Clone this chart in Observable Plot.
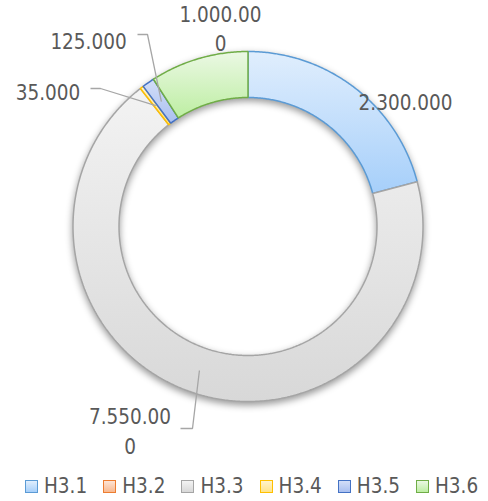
<!DOCTYPE html>
<html><head><meta charset="utf-8">
<script src="https://cdn.jsdelivr.net/npm/d3@7"></script>
<script src="https://cdn.jsdelivr.net/npm/@observablehq/plot@0.6"></script>
<style>
body{margin:0;background:#fff;}
#wrap{width:488px;height:501px;position:relative;overflow:hidden;}
#legend{position:relative;width:488px;height:36px;font-family:"DejaVu Sans Condensed","DejaVu Sans";font-stretch:condensed;font-size:20.5px;color:#595959;}
.item{position:absolute;top:3px;height:36px;display:flex;align-items:center;white-space:nowrap;}
.sw{width:13px;height:13px;box-sizing:border-box;border:1.5px solid;margin-right:6px;}
svg text{font-stretch:condensed;}
</style>
</head><body>
<div id="wrap"><div id="chart"></div><div id="legend"></div></div>
<script>
// ---- data ----
const categories = ["H3.1", "H3.2", "H3.3", "H3.4", "H3.5", "H3.6"];
const values = [2300000, 0, 7550000, 35000, 125000, 1000000];
const labelTexts = ["2.300.000", "", "7.550.00\n0", "35.000", "125.000", "1.000.00\n0"];
const strokeColors = ["#5b9bd5", "#ed7d31", "#a5a5a5", "#ffc000", "#4472c4", "#70ad47"];
const fillTop = ["#e0eefd", "#fde4d6", "#f3f3f3", "#fff3cc", "#d3def8", "#ebf8e4"];
const fillBottom = ["#a6cffa", "#f8b990", "#d8d8d8", "#ffe38a", "#a9bff0", "#bdeea2"];

// ---- layout (pixels) ----
const W = 488, H = 465, CX = 247.5, CY = 226, R_OUT = 175, R_IN = 129;
const labelLayout = [
  {cat: "H3.1", px: 405, py: 100, elbow: null},
  {cat: "H3.3", px: 129.5, py: 429, elbow: [[180, 428], [192, 428]]},
  {cat: "H3.4", px: 47.5, py: 90, elbow: [[90, 88], [100, 88]]},
  {cat: "H3.5", px: 88, py: 39, elbow: [[137, 34], [147, 34]]},
  {cat: "H3.6", px: 220, py: 26.5, elbow: null}
];
const X = px => (px - CX) / R_OUT;
const Y = py => (CY - py) / R_OUT;
const rIn = R_IN / R_OUT;

const rows = categories.map((c, i) => ({cat: c, value: values[i], i}));
const arcs = d3.pie().sort(null).value(d => d.value)(rows);

// slice polygons
const sliceMarks = [];
arcs.forEach(a => {
  if (a.data.value <= 0) return;
  const i = a.data.i;
  const n = Math.max(2, Math.ceil((a.endAngle - a.startAngle) / (Math.PI / 360)));
  const pts = [];
  for (let k = 0; k <= n; k++) {
    const t = a.startAngle + (a.endAngle - a.startAngle) * k / n;
    pts.push({x: Math.sin(t), y: Math.cos(t)});
  }
  for (let k = n; k >= 0; k--) {
    const t = a.startAngle + (a.endAngle - a.startAngle) * k / n;
    pts.push({x: rIn * Math.sin(t), y: rIn * Math.cos(t)});
  }
  pts.push(pts[0]);
  sliceMarks.push(Plot.line(pts, {
    x: "x", y: "y", fill: `url(#grad${i})`, stroke: strokeColors[i],
    strokeWidth: 1.5, strokeLinejoin: "miter"
  }));
});

// labels + leaders
const labelRows = labelLayout.map(l => {
  const i = categories.indexOf(l.cat);
  return {text: labelTexts[i], x: X(l.px), y: Y(l.py)};
});
const leaderPts = [];
labelLayout.forEach(l => {
  if (!l.elbow) return;
  const i = categories.indexOf(l.cat);
  const a = arcs.find(d => d.data.i === i);
  const mid = (a.startAngle + a.endAngle) / 2;
  const rm = (1 + rIn) / 2;
  l.elbow.forEach(([px, py]) => leaderPts.push({cat: l.cat, x: X(px), y: Y(py)}));
  leaderPts.push({cat: l.cat, x: rm * Math.sin(mid), y: rm * Math.cos(mid)});
});

const svg = Plot.plot({
  width: W, height: H, margin: 0,
  x: {domain: [X(0), X(W)], axis: null},
  y: {domain: [Y(H), Y(0)], axis: null},
  marks: [
    ...sliceMarks,
    Plot.line(leaderPts, {x: "x", y: "y", z: "cat", stroke: "#a6a6a6", strokeWidth: 1.3, strokeLinejoin: "miter", strokeLinecap: "butt"}),
    Plot.text(labelRows, {x: "x", y: "y", text: "text", fontSize: 20.5, fontFamily: "'DejaVu Sans Condensed', 'DejaVu Sans'", fill: "#595959", lineHeight: 1.45, textAnchor: "middle"})
  ]
});

// gradients
const ns = "http://www.w3.org/2000/svg";
const defs = document.createElementNS(ns, "defs");
categories.forEach((c, i) => {
  const g = document.createElementNS(ns, "linearGradient");
  g.setAttribute("id", "grad" + i);
  g.setAttribute("x1", "0"); g.setAttribute("y1", "0");
  g.setAttribute("x2", "0"); g.setAttribute("y2", "1");
  [[0, fillTop[i]], [1, fillBottom[i]]].forEach(([o, col]) => {
    const s = document.createElementNS(ns, "stop");
    s.setAttribute("offset", o); s.setAttribute("stop-color", col);
    g.appendChild(s);
  });
  defs.appendChild(g);
});
svg.insertBefore(defs, svg.firstChild);

// shadow wrapper around slices (first mark groups)
const groups = Array.from(svg.children).filter(el => el.tagName.toLowerCase() === "g").slice(0, sliceMarks.length);
if (groups.length) {
  const wrapper = document.createElementNS(ns, "g");
  wrapper.setAttribute("style", "filter: drop-shadow(0px 3px 3.5px rgba(0,0,0,0.4))");
  svg.insertBefore(wrapper, groups[0]);
  groups.forEach(s => wrapper.appendChild(s));
}

document.getElementById("chart").appendChild(svg);

// legend
const legend = document.getElementById("legend");
categories.forEach((c, i) => {
  const item = document.createElement("div");
  item.className = "item";
  item.style.left = (25 + i * 78.2) + "px";
  const sw = document.createElement("span");
  sw.className = "sw";
  sw.style.borderColor = strokeColors[i];
  sw.style.background = `linear-gradient(${fillTop[i]}, ${fillBottom[i]})`;
  const t = document.createElement("span");
  t.textContent = c;
  item.appendChild(sw); item.appendChild(t);
  legend.appendChild(item);
});
</script>
</body></html>
